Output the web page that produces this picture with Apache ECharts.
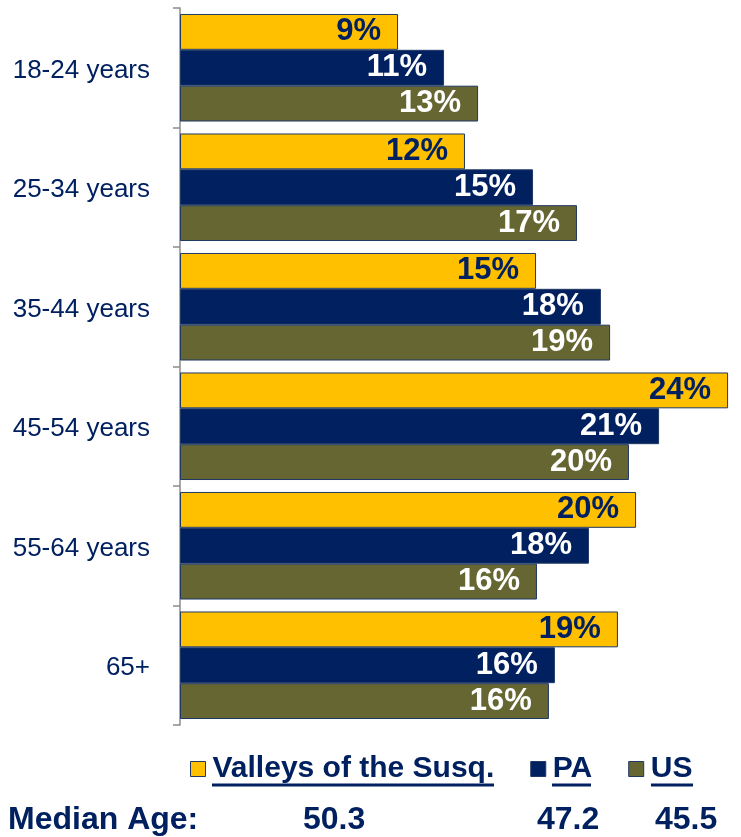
<!DOCTYPE html>
<html>
<head>
<meta charset="utf-8">
<script src="https://cdn.jsdelivr.net/npm/echarts@6/dist/echarts.min.js"></script>
<style>
    html, body {margin:0;padding:0;background:#fff}
    #chart {width:741px;height:837px}
</style>
</head>
<body>
<div id="chart"></div>
<script>
    // 数据
    var categories = ['18-24 years', '25-34 years', '35-44 years', '45-54 years', '55-64 years', '65+'];
    var seriesNames = ['Valleys of the Susq.', 'PA', 'US'];
    var valleys = [9.48, 12.39, 15.48, 23.83, 19.83, 19.04];
    var pa = [11.48, 15.35, 18.30, 20.83, 17.78, 16.30];
    var us = [12.96, 17.26, 18.70, 19.52, 15.52, 16.04];
    var medianLabel = 'Median Age:';
    var medianAges = ['50.3', '47.2', '45.5'];

    var navy = '#002060';
    var colors = ['#FFC000', '#002060', '#666633'];
    var labelColors = [navy, '#ffffff', '#ffffff'];
    var font = '"Liberation Sans", Arial, sans-serif';

    var chart = echarts.init(document.getElementById('chart'), null, {renderer: 'canvas'});

    function makeSeries(idx, values) {
        return {
            name: seriesNames[idx],
            type: 'bar',
            data: values,
            barGap: '0%',
            barCategoryGap: '10%',
            itemStyle: {color: colors[idx], borderColor: '#1F3864', borderWidth: 1},
            label: {
                show: true,
                position: 'insideRight',
                distance: 17,
                color: labelColors[idx],
                fontFamily: font,
                fontWeight: 'bold',
                fontSize: 31,
                formatter: function (p) { return Math.round(p.value) + '%'; }
            }
        };
    }

    var option = {
        animation: false,
        color: colors,
        grid: {left: 180, top: 8, width: 552, height: 717, containLabel: false},
        xAxis: {
            type: 'value', min: 0, max: 24,
            show: false
        },
        yAxis: {
            type: 'category',
            data: categories,
            inverse: true,
            axisLine: {show: true, lineStyle: {color: '#8c8c8c', width: 1.5}},
            axisTick: {show: true, length: 7, lineStyle: {color: '#8c8c8c', width: 1.5}},
            axisLabel: {color: navy, fontFamily: font, fontSize: 26, margin: 30, lineHeight: 34, verticalAlign: 'top', padding: [-14, 0, 0, 0]}
        },
        legend: {
            left: 190,
            top: 754,
            padding: 0,
            itemWidth: 15,
            itemHeight: 15,
            itemGap: 36,
            icon: 'rect',
            itemStyle: {borderColor: '#1F3864', borderWidth: 1},
            textStyle: {color: navy, fontFamily: font, fontWeight: 'bold', fontSize: 30, padding: [0, 0, 0, 2]},
            data: seriesNames
        },
        graphic: [
            // 图例下划线
            {type: 'line', shape: {x1: 212, y1: 785, x2: 494, y2: 785}, style: {stroke: navy, lineWidth: 3}},
            {type: 'line', shape: {x1: 552, y1: 785, x2: 591, y2: 785}, style: {stroke: navy, lineWidth: 3}},
            {type: 'line', shape: {x1: 651, y1: 785, x2: 693, y2: 785}, style: {stroke: navy, lineWidth: 3}},
            // Median Age 行
            {type: 'text', left: 8, top: 804, style: {text: medianLabel, fill: navy, font: 'bold 32px ' + font}},
            {type: 'text', left: 303, top: 804, style: {text: medianAges[0], fill: navy, font: 'bold 32px ' + font}},
            {type: 'text', left: 537, top: 804, style: {text: medianAges[1], fill: navy, font: 'bold 32px ' + font}},
            {type: 'text', left: 655, top: 804, style: {text: medianAges[2], fill: navy, font: 'bold 32px ' + font}}
        ],
        series: [
            makeSeries(0, valleys),
            makeSeries(1, pa),
            makeSeries(2, us)
        ]
    };
    chart.setOption(option);
</script>
</body>
</html>
